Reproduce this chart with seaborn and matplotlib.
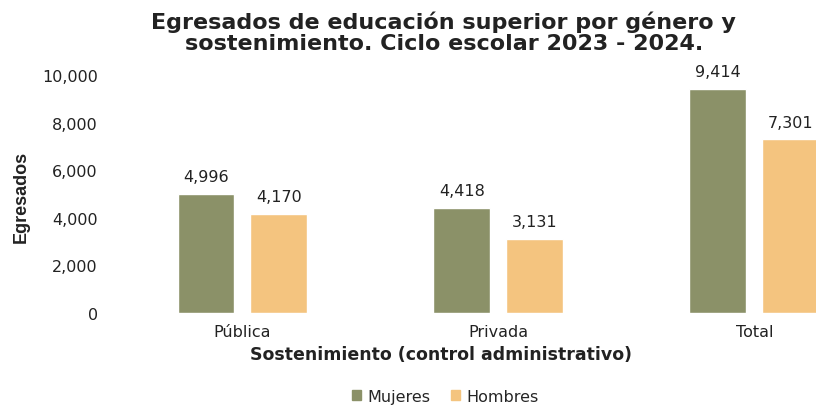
import matplotlib
matplotlib.use("Agg")
import matplotlib.pyplot as plt
import pandas as pd
import seaborn as sns

categorias = ["Pública", "Privada", "Total"]
mujeres = [4996, 4418, 9414]
hombres = [4170, 3131, 7301]
generos = ["Mujeres", "Hombres"]
colores = ["#8b9168", "#f4c47f"]

df = pd.DataFrame({
    "Sostenimiento": categorias * 2,
    "Género": [generos[0]] * 3 + [generos[1]] * 3,
    "Egresados": mujeres + hombres,
})

sns.set_style("white")
plt.rcParams["font.family"] = ["DejaVu Sans"]

fig = plt.figure(figsize=(8.16, 4.06), dpi=100)
ax = fig.add_axes([0.1403, 0.2266, 0.941, 0.586])

sns.barplot(data=df, x="Sostenimiento", y="Egresados", hue="Género",
            palette=colores, saturation=1, width=0.57, gap=0.22, ax=ax,
            legend=False)

for cont in ax.containers:
    ax.bar_label(cont, labels=[f"{v:,.0f}" for v in cont.datavalues],
                 padding=7, fontsize=11.5, color="#222222")

ax.set_ylim(0, 10000)
ax.set_xlim(-0.5, 2.5)
ax.set_yticks(range(0, 10001, 2000))
ax.set_yticklabels([f"{v:,}" for v in range(0, 10001, 2000)])
ax.tick_params(axis="both", length=0, labelsize=11.5, colors="#222222")
ax.tick_params(axis="y", pad=12)
ax.tick_params(axis="x", pad=8)
for s in ax.spines.values():
    s.set_visible(False)

ax.set_xlabel("")
ax.set_ylabel("")
fig.text(0.026, 0.515, "Egresados", rotation=90, ha="center", va="center",
         fontsize=13, fontweight="bold", color="#222222",
         family=["Liberation Sans Narrow", "Liberation Sans"])
fig.text(0.54, 0.126, "Sostenimiento (control administrativo)", ha="center",
         va="center", fontsize=12.5, fontweight="bold", color="#222222")
fig.text(0.544, 0.919, "Egresados de educación superior por género y\nsostenimiento. Ciclo escolar 2023 - 2024.",
         ha="center", va="center", fontsize=16, fontweight="bold", color="#222222",
         linespacing=1.08)

handles = [plt.Rectangle((0, 0), 1, 1, color=c) for c in colores]
fig.legend(handles, generos, loc="center", bbox_to_anchor=(0.546, 0.022), ncol=2,
           frameon=False, fontsize=11.5, handlelength=0.55, handleheight=0.55,
           handletextpad=0.4, columnspacing=1.3)

fig.savefig("out.png", dpi=100)
